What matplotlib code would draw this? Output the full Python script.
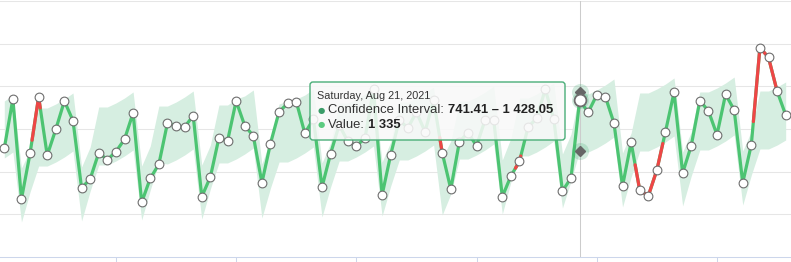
import numpy as np
import pandas as pd
import matplotlib
matplotlib.use("Agg")
import matplotlib.pyplot as plt
import matplotlib.dates as mdates
from matplotlib.patches import FancyBboxPatch
from matplotlib.collections import LineCollection
from matplotlib.transforms import IdentityTransform

# ---------------- data ----------------
start_date = "2021-06-15"
values = [774, 1352, 180, 715, 1375, 692, 997, 1328, 1097, 309,
          414, 722, 640, 734, 879, 1188, 141, 422, 586, 1070,
          1035, 1023, 1156, 207, 438, 898, 859, 1328, 1039, 920,
          370, 830, 1202, 1299, 1322, 950, 1117, 320, 711, 1047,
          856, 803, 891, 1463, 227, 699, 1105, 1012, 1199, 968,
          1340, 722, 297, 850, 957, 803, 1109, 1103, 207, 449,
          622, 1023, 1125, 1465, 1114, 273, 426, 1335, 1196, 1398,
          1379, 1070, 332, 842, 285, 215, 520, 968, 1430, 484,
          804, 1331, 1213, 932, 1407, 1223, 370, 817, 1955, 1838,
          1445, 1164]
upper = [1328, 1398, 543, 754, 1246, 1246, 1293, 1352, 1422, 555,
         789, 1258, 1258, 1305, 1363, 1434, 566, 801, 1269, 1269,
         1316, 1375, 1445, 578, 812, 1281, 1281, 1352, 1387, 1457,
         590, 871, 1293, 1328, 1352, 1398, 1469, 602, 836, 1305,
         1305, 1352, 1410, 1480, 613, 848, 1316, 1316, 1363, 1422,
         1492, 660, 859, 1328, 1328, 1375, 1434, 1504, 637, 894,
         1363, 1363, 1410, 1480, 1539, 707, 941, 1428.05, 1410, 1457,
         1516, 1586, 719, 953, 1422, 1422, 1469, 1527, 1598, 730,
         965, 1434, 1434, 1480, 1539, 1609, 742, 976, 1445, 1445,
         1492, 1551]
lower = [660, 730, -90, 262, 566, 566, 613, 672, 742, -78,
         273, 578, 578, 625, 684, 754, -66, 285, 602, 590,
         637, 695, 766, -55, 297, 602, 602, 648, 707, 777,
         -43, 309, 613, 613, 660, 719, 789, -31, 320, 625,
         625, 672, 730, 801, -20, 332, 637, 637, 684, 742,
         812, -8, 238, 648, 648, 695, 754, 824, 4, 379,
         684, 684, 730, 789, 859, 74, 391, 741.41, 730, 777,
         836, 906, 86, 437, 742, 742, 789, 848, 918, 98,
         449, 754, 754, 801, 859, 930, 109, 461, 766, 766,
         812, 871]
tick_dates = ["2021-06-28", "2021-07-12", "2021-07-26", "2021-08-09", "2021-08-23", "2021-09-06"]
hover_date = "2021-08-21"
tooltip_header = "Saturday, Aug 21, 2021"
ci_label = "Confidence Interval: "
ci_text = "741.41 \u2013 1 428.05"
value_label = "Value: "
value_text = "1 335"
y_grid = [0, 500, 1000, 1500, 2000, 2500]

# ---------------- style ----------------
GREEN = "#4cc472"
RED = "#ee4646"
BAND = "#d6eee1"
W, H = 791, 262

dates = pd.date_range(start_date, periods=len(values), freq="D")
x = mdates.date2num(dates.to_pydatetime())
v = np.asarray(values, float)
u = np.asarray(upper, float)
l = np.asarray(lower, float)
hi = int(np.where(dates == pd.Timestamp(hover_date))[0][0])

fig = plt.figure(figsize=(W / 100, H / 100), dpi=100)
ax = fig.add_axes([0, 5 / H, 1, 256 / H])
ax.set_ylim(-500, 2500)
ax.set_xlim(x[0] - 0.5, x[0] + 91.62)

ax.set_yticks(y_grid)
ax.yaxis.grid(True, color="#e6e6e6", lw=0.75)
ax.tick_params(axis="y", length=0, labelleft=False)
ax.set_xticks(mdates.date2num(pd.to_datetime(tick_dates).to_pydatetime()))
ax.tick_params(axis="x", length=4, width=0.75, color="#ccd6eb", direction="out", labelbottom=False)
for s in ("top", "left", "right"):
    ax.spines[s].set_visible(False)
ax.spines["bottom"].set_color("#ccd6eb")
ax.spines["bottom"].set_linewidth(0.75)
ax.set_axisbelow(True)

# confidence band
ax.fill_between(x, l, u, color=BAND, lw=0, zorder=1)

# crosshair
ax.axvline(x[hi], color="#cccccc", lw=0.75, zorder=1.5)

# main line
ax.plot(x, v, color=GREEN, lw=2.3, solid_joinstyle="round", solid_capstyle="round", zorder=3)

# red pieces where value leaves the band
segs = []
for i in range(len(v) - 1):
    ts = [0.0, 1.0]
    for d0, d1 in ((v[i] - u[i], v[i + 1] - u[i + 1]), (l[i] - v[i], l[i + 1] - v[i + 1])):
        if d0 * d1 < 0:
            ts.append(d0 / (d0 - d1))
    ts.sort()
    for a, b in zip(ts[:-1], ts[1:]):
        m = 0.5 * (a + b)
        vm = v[i] + (v[i + 1] - v[i]) * m
        um = u[i] + (u[i + 1] - u[i]) * m
        lm = l[i] + (l[i + 1] - l[i]) * m
        if vm > um or vm < lm:
            xa = x[i] + (x[i + 1] - x[i]) * a
            xb = x[i] + (x[i + 1] - x[i]) * b
            ya = v[i] + (v[i + 1] - v[i]) * a
            yb = v[i] + (v[i + 1] - v[i]) * b
            segs.append([(xa, ya), (xb, yb)])
ax.add_collection(LineCollection(segs, colors=RED, linewidths=2.3, capstyle="round", zorder=3.1))

# markers
ax.plot(x, v, "o", ms=6.3, mfc="white", mec="#6e6e6e", mew=0.8, zorder=4, ls="none")

# hover state
halo = dict(s=150, color="#3aa76d", alpha=0.22, lw=0, zorder=4.5)
ax.scatter([x[hi]], [u[hi]], **halo)
ax.scatter([x[hi]], [l[hi]], **halo)
ax.scatter([x[hi]], [v[hi]], **halo)
ax.plot([x[hi], x[hi]], [u[hi], l[hi]], "D", ms=5.5, color="#666666", ls="none", zorder=5)
ax.plot([x[hi]], [v[hi]], "o", ms=8.5, mfc="white", mec="#6e6e6e", mew=1.3, zorder=6)

# tooltip
idt = IdentityTransform()
def py(yy):
    return H - yy

box = FancyBboxPatch((310, py(140)), 255, 58, boxstyle="round,pad=0,rounding_size=3",
                     transform=idt, facecolor=(0.975, 0.975, 0.975, 0.86),
                     edgecolor="#4aae78", lw=1.0, zorder=20)
fig.patches.append(box)

FONT = "Liberation Sans"
fig.text(317, py(96), tooltip_header, transform=idt, fontsize=7.8, color="#333333",
         va="center", ha="left", family=FONT, zorder=21)

def line(ycen, bullet_color, label, bold):
    fig.text(318, ycen, "\u25cf", transform=idt, fontsize=6, color=bullet_color,
             va="center", ha="left", family="DejaVu Sans", zorder=21)
    t1 = fig.text(328, ycen, label, transform=idt, fontsize=9.4, color="#333333",
                  va="center", ha="left", family=FONT, zorder=21)
    fig.canvas.draw()
    ext = t1.get_window_extent()
    fig.text(ext.x1, ycen, bold, transform=idt, fontsize=9.4, color="#222222",
             va="center", ha="left", family=FONT, fontweight="bold", zorder=21)

line(py(110), "#3a9c68", ci_label, ci_text)
line(py(125), "#5ccb80", value_label, value_text)

fig.savefig("out.png", dpi=100)
